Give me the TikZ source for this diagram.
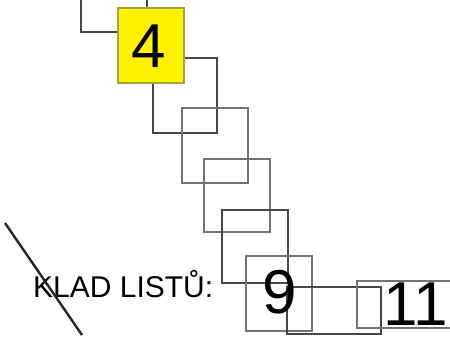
\documentclass[tikz,border=0pt]{standalone}
\usepackage{fontspec}
\setmainfont{Liberation Sans}
\begin{document}
\begin{tikzpicture}[x=1pt,y=-1pt,
  sheet/.style={draw, rectangle, inner sep=0pt, line width=1.2pt,
    minimum width=66pt, minimum height=75pt},
  flat/.style={sheet, minimum width=94pt, minimum height=47pt},
  dark/.style={draw=black!72},
  pale/.style={draw=black!55},
  digit/.style={inner sep=0pt, font=\fontsize{62}{62}\selectfont},
  caption/.style={inner sep=0pt, font=\fontsize{30}{30}\selectfont}]
\useasboundingbox (0,0) rectangle (450,337);
\clip (0,0) rectangle (450,337);

% stacked sheets, drawn from the back
\node[sheet, dark] (s1) at (114,-5.5) {};
\node[sheet, dark, minimum width=64pt] (s3) at (185,95.5) {};
\node[sheet, pale] (s4) at (215,145.5) {};
\node[sheet, pale, minimum height=73pt] (s5) at (237,195.5) {};
\node[sheet, dark, minimum height=73pt] (s6) at (255,246.5) {};
\node[sheet, pale] (s9) at (279,293.5) {};
\node[flat, dark] (s7) at (334,310.5) {};
\node[flat, pale, minimum width=110pt] (s11) at (412,304.5) {};

% highlighted sheet
\node[sheet, fill=yellow, draw=yellow!60!black] (s2) at (151,45.5) {};

% page numbers
\node[digit, anchor=base] (n4) at (149,68) {4};
\node[digit, anchor=base] (n9) at (280,313) {9};
\node[digit, anchor=base west] (n11) at (383,325) {11};

% caption and its strike-through
\node[caption, anchor=base west] (cap) at (33,297) {KLAD LISTŮ:};
\coordinate (c1) at (5,223);
\coordinate (c2) at (82,335);
\draw[line width=2.4pt, black!85] (c1) -- (c2);
\end{tikzpicture}
\end{document}
